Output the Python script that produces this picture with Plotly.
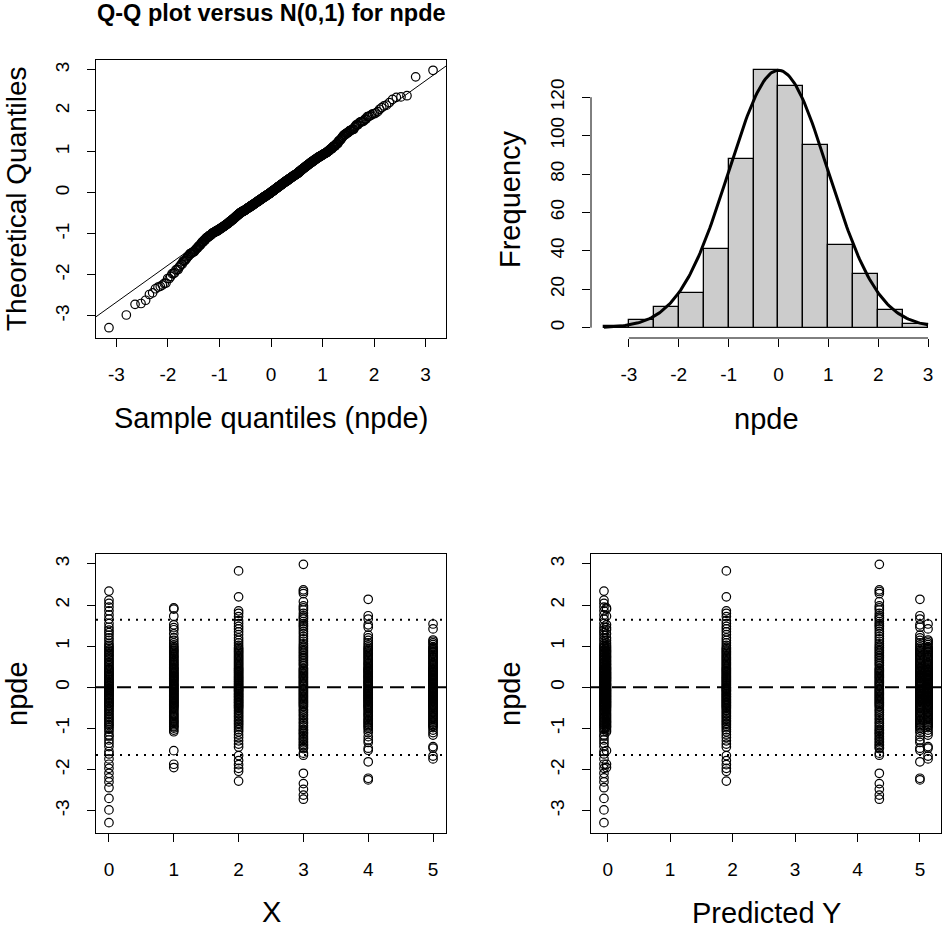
import statistics
import numpy as np
import plotly.graph_objects as go

# npde values per dose level X
npde_x0 = [-3.29, -2.98, -2.70, -2.44, -2.30, -2.20, -2.09, -1.97, -1.87, -1.74, -1.62, -1.56,
           -1.44, -1.36, -1.28, -1.20, -1.16, -1.08, -1.02,
           -0.97, -0.93, -0.90, -0.86, -0.82, -0.78, -0.75, -0.71, -0.67, -0.63, -0.59, -0.55, -0.52,
           -0.48, -0.45, -0.43, -0.40, -0.37, -0.35, -0.32, -0.29, -0.27, -0.24, -0.21, -0.19, -0.16,
           -0.14, -0.11, -0.09, -0.07, -0.05, -0.03, -0.01,
           0.02, 0.04, 0.07, 0.10, 0.12, 0.15, 0.18, 0.20, 0.23, 0.26, 0.29, 0.31, 0.34, 0.37, 0.40,
           0.43, 0.45, 0.48,
           0.52, 0.55, 0.59, 0.62, 0.66, 0.69, 0.73, 0.77, 0.80, 0.84, 0.88, 0.91, 0.95, 0.98,
           1.02, 1.07, 1.14, 1.20, 1.27, 1.33, 1.39, 1.46, 1.55, 1.66, 1.76, 1.86, 1.95, 2.04, 2.12, 2.34]
npde_x1 = [-1.95, -1.87, -1.54, -1.08, -1.04,
           -0.99, -0.96, -0.94, -0.91, -0.88, -0.85, -0.83, -0.80, -0.77, -0.74, -0.71, -0.68, -0.65,
           -0.62, -0.58, -0.55, -0.52,
           -0.49, -0.47, -0.45, -0.43, -0.41, -0.39, -0.37, -0.35, -0.33, -0.31, -0.29, -0.27, -0.25,
           -0.23, -0.21, -0.19, -0.17, -0.15, -0.13, -0.11, -0.09, -0.07, -0.05, -0.03, -0.01,
           0.01, 0.03, 0.05, 0.07, 0.09, 0.11, 0.14, 0.16, 0.18, 0.20, 0.22, 0.24, 0.26, 0.28, 0.30,
           0.32, 0.34, 0.36, 0.38, 0.41, 0.43, 0.45, 0.47, 0.49,
           0.52, 0.55, 0.57, 0.60, 0.63, 0.65, 0.68, 0.71, 0.74, 0.76, 0.79, 0.82, 0.85, 0.88, 0.90,
           0.93, 0.96, 0.99,
           1.03, 1.08, 1.14, 1.20, 1.30, 1.40, 1.45, 1.52, 1.73, 1.90, 1.93]
npde_x2 = [-2.28, -2.04, -1.97, -1.88, -1.78, -1.66, -1.45, -1.38, -1.30, -1.22, -1.15, -1.08, -1.03,
           -0.98, -0.94, -0.90, -0.87, -0.83, -0.80, -0.76, -0.72, -0.69, -0.65, -0.62, -0.58, -0.55, -0.51,
           -0.49, -0.46, -0.44, -0.42, -0.39, -0.37, -0.35, -0.32, -0.30, -0.28, -0.25, -0.23, -0.21,
           -0.18, -0.16, -0.14, -0.11, -0.09, -0.07, -0.05, -0.03, -0.01,
           0.01, 0.04, 0.06, 0.09, 0.11, 0.14, 0.16, 0.19, 0.21, 0.24, 0.26, 0.29, 0.31, 0.34, 0.36,
           0.39, 0.41, 0.44, 0.46, 0.49,
           0.52, 0.55, 0.58, 0.61, 0.64, 0.67, 0.70, 0.73, 0.76, 0.79, 0.82, 0.85, 0.88, 0.91, 0.94, 0.97,
           1.02, 1.08, 1.14, 1.20, 1.28, 1.35, 1.42, 1.48, 1.55, 1.62, 1.72, 1.80, 1.86, 2.20, 2.83]
npde_x3 = [-2.72, -2.62, -2.48, -2.34, -2.09, -1.65, -1.60,
           -1.49, -1.46, -1.42, -1.39, -1.35, -1.31, -1.27, -1.24, -1.20, -1.16, -1.12, -1.09, -1.05, -1.02,
           -0.97, -0.93, -0.88, -0.84, -0.79, -0.75, -0.70, -0.66, -0.61, -0.57, -0.53,
           -0.48, -0.45, -0.42, -0.39, -0.36, -0.33, -0.30, -0.27, -0.24, -0.21, -0.18, -0.15, -0.12,
           -0.09, -0.06, -0.03,
           0.02, 0.05, 0.08, 0.11, 0.14, 0.17, 0.20, 0.23, 0.26, 0.29, 0.32, 0.35, 0.38, 0.41, 0.44, 0.47,
           0.53, 0.57, 0.61, 0.65, 0.69, 0.73, 0.77, 0.81, 0.85, 0.89, 0.93, 0.97,
           1.01, 1.06, 1.12, 1.18, 1.24, 1.30, 1.36, 1.42, 1.47,
           1.51, 1.55, 1.60, 1.66, 1.70, 1.74, 1.80, 1.88, 1.93, 1.98,
           2.08, 2.28, 2.33, 2.37, 2.99]
npde_x4 = [-2.25, -2.21, -1.81, -1.53, -1.48, -1.34, -1.28, -1.20, -1.10, -1.04,
           -0.99, -0.96, -0.93, -0.90, -0.87, -0.84, -0.81, -0.78, -0.75, -0.71, -0.68, -0.65, -0.62,
           -0.58, -0.55, -0.52,
           -0.49, -0.47, -0.45, -0.43, -0.41, -0.38, -0.36, -0.34, -0.32, -0.30, -0.28, -0.26, -0.24,
           -0.22, -0.20, -0.18, -0.16, -0.14, -0.12, -0.10, -0.08, -0.06, -0.04, -0.02,
           0.01, 0.03, 0.05, 0.08, 0.10, 0.12, 0.14, 0.16, 0.18, 0.21, 0.23, 0.25, 0.27, 0.29, 0.31,
           0.34, 0.36, 0.38, 0.40, 0.42, 0.44, 0.46, 0.48,
           0.51, 0.54, 0.57, 0.59, 0.62, 0.65, 0.68, 0.71, 0.74, 0.77, 0.80, 0.83, 0.86, 0.89, 0.92,
           0.95, 0.98,
           1.03, 1.08, 1.14, 1.20, 1.27, 1.46, 1.52, 1.66, 1.74, 2.14]
npde_x5 = [-1.74, -1.67, -1.48, -1.44, -1.16, -1.10, -1.04,
           -0.98, -0.95, -0.93, -0.90, -0.87, -0.84, -0.81, -0.78, -0.75, -0.72, -0.69, -0.66, -0.63,
           -0.60, -0.57, -0.54, -0.51,
           -0.49, -0.47, -0.45, -0.44, -0.42, -0.40, -0.38, -0.36, -0.34, -0.32, -0.30, -0.28, -0.26,
           -0.24, -0.22, -0.20, -0.18, -0.16, -0.14, -0.12, -0.11, -0.09, -0.07, -0.05, -0.04, -0.02, -0.01,
           0.01, 0.03, 0.05, 0.07, 0.09, 0.11, 0.13, 0.15, 0.17, 0.19, 0.21, 0.23, 0.25, 0.27, 0.29,
           0.31, 0.33, 0.35, 0.37, 0.39, 0.41, 0.43, 0.45, 0.47, 0.49,
           0.52, 0.55, 0.58, 0.60, 0.63, 0.66, 0.69, 0.72, 0.74, 0.77, 0.80, 0.83, 0.86, 0.88, 0.91,
           0.94, 0.96, 0.99,
           1.04, 1.08, 1.12, 1.15, 1.42, 1.54]

npde_groups = [npde_x0, npde_x1, npde_x2, npde_x3, npde_x4, npde_x5]
x_levels = [0, 1, 2, 3, 4, 5]
pred_levels = [-0.06, -0.02, 1.90, 4.35, 5.00, 5.13]   # predicted Y for each X

# histogram (counts)
hist_breaks = [-3.5, -3.0, -2.5, -2.0, -1.5, -1.0, -0.5, 0.0, 0.5, 1.0, 1.5, 2.0, 2.5, 3.0]
hist_counts = [1, 4, 11, 18, 41, 88, 134, 126, 95, 43, 28, 9, 2]

qq_ticks = [-3, -2, -1, 0, 1, 2, 3]
freq_ticks = [0, 20, 40, 60, 80, 100, 120]
x_ticks = [0, 1, 2, 3, 4, 5]

W, H = 945, 931
FONT = "Liberation Sans, Arial, Helvetica, sans-serif"


def r_range(lo, hi):
    # R style axis range (4% padding each side)
    pad = (hi - lo) * 0.04
    return [lo - pad, hi + pad]


def dom_x(a, b):
    return [a / W, b / W]


def dom_y(top, bottom):
    return [1 - bottom / H, 1 - top / H]


def tick(vals):
    # plain hyphen minus like R
    return dict(tickvals=vals, ticktext=[str(v) for v in vals])


# qq data
npde_all = np.sort(np.concatenate([np.array(g) for g in npde_groups]))
n = len(npde_all)
nd = statistics.NormalDist()
theo = np.array([nd.inv_cdf((i - 0.5) / n) for i in range(1, n + 1)])

q25, q75 = np.quantile(npde_all, [0.25, 0.75])
slope = (q75 - q25) / (nd.inv_cdf(0.75) - nd.inv_cdf(0.25))
intercept = q25 - slope * nd.inv_cdf(0.25)

qq_xr = r_range(theo.min(), theo.max())
npde_yr = r_range(npde_all.min(), npde_all.max())

# histogram + normal curve scaled to highest bar
bin_mid = [(hist_breaks[i] + hist_breaks[i + 1]) / 2 for i in range(len(hist_counts))]
curve_x = np.linspace(hist_breaks[0], hist_breaks[-1], 200)
curve_y = np.exp(-curve_x ** 2 / 2) * max(hist_counts)

x_all, pred_all, npde_flat = [], [], []
for lev, pr, g in zip(x_levels, pred_levels, npde_groups):
    x_all += [lev] * len(g)
    pred_all += [pr] * len(g)
    npde_flat += g

pi_lo, pi_hi = nd.inv_cdf(0.05), nd.inv_cdf(0.95)

circ = dict(symbol="circle-open", size=8.5, color="black", line=dict(width=1.2, color="black"))

fig = go.Figure()
fig.add_trace(go.Scatter(x=theo, y=npde_all, mode="markers", marker=circ, xaxis="x", yaxis="y"))
fig.add_trace(go.Scatter(x=qq_xr, y=[intercept + slope * v for v in qq_xr], mode="lines",
                         line=dict(color="black", width=1), xaxis="x", yaxis="y"))

fig.add_trace(go.Bar(x=bin_mid, y=hist_counts, width=0.5, marker=dict(color="#CCCCCC", line=dict(color="black", width=1.3)),
                     xaxis="x2", yaxis="y2"))
fig.add_trace(go.Scatter(x=curve_x, y=curve_y, mode="lines", line=dict(color="black", width=3),
                         xaxis="x2", yaxis="y2"))

fig.add_trace(go.Scatter(x=x_all, y=npde_flat, mode="markers", marker=circ, xaxis="x3", yaxis="y3"))
fig.add_trace(go.Scatter(x=pred_all, y=npde_flat, mode="markers", marker=circ, xaxis="x4", yaxis="y4"))

ax = dict(showgrid=False, zeroline=False, ticks="outside", ticklen=8, tickwidth=1, tickcolor="black",
          tickfont=dict(size=19, color="black", family=FONT), showline=True, mirror=True,
          linecolor="black", linewidth=1)
axx = dict(ax, ticklabelstandoff=11)
axy = dict(ax, tickangle=-90, ticklabelstandoff=10)

fig.update_layout(
    width=W, height=H, margin=dict(l=0, r=0, t=0, b=0),
    paper_bgcolor="white", plot_bgcolor="white", showlegend=False,
    font=dict(family=FONT, color="black"),
    xaxis=dict(axx, domain=dom_x(96, 446), anchor="y", range=qq_xr, **tick(qq_ticks)),
    yaxis=dict(axy, domain=dom_y(60, 338), anchor="x", range=npde_yr, **tick(qq_ticks)),
    xaxis2=dict(axx, domain=dom_x(591, 941), anchor="y2", range=r_range(hist_breaks[0], hist_breaks[-1]),
                showline=False, **tick(qq_ticks)),
    yaxis2=dict(axy, domain=dom_y(60, 338), anchor="x2", range=r_range(0, max(hist_counts)),
                showline=False, **tick(freq_ticks)),
    xaxis3=dict(axx, domain=dom_x(96, 446), anchor="y3", range=r_range(min(x_levels), max(x_levels)),
                **tick(x_ticks)),
    yaxis3=dict(axy, domain=dom_y(554, 833), anchor="x3", range=npde_yr, **tick(qq_ticks)),
    xaxis4=dict(axx, domain=dom_x(591, 941), anchor="y4", range=r_range(min(pred_all), max(pred_all)),
                **tick(x_ticks)),
    yaxis4=dict(axy, domain=dom_y(554, 833), anchor="x4", range=npde_yr, **tick(qq_ticks)),
    bargap=0,
)

# hist axis lines only span first..last tick (R style)
fig.add_shape(type="line", xref="x2", yref="y2 domain", x0=qq_ticks[0], x1=qq_ticks[-1], y0=0, y1=0,
              line=dict(color="black", width=1))
fig.add_shape(type="line", xref="x2 domain", yref="y2", x0=0, x1=0, y0=freq_ticks[0], y1=freq_ticks[-1],
              line=dict(color="black", width=1))

# reference lines on the npde scatter panels
for xr, yr in [("x3 domain", "y3"), ("x4 domain", "y4")]:
    fig.add_shape(type="line", xref=xr, yref=yr, x0=0, x1=1, y0=0, y1=0,
                  line=dict(color="black", width=2, dash="14px,7px"))
    for v in [pi_lo, pi_hi]:
        fig.add_shape(type="line", xref=xr, yref=yr, x0=0, x1=1, y0=v, y1=v,
                      line=dict(color="black", width=2, dash="2px,6px"))


# titles
def label(text, x, y, size=29, angle=0, bold=False):
    if bold:
        text = "<b>" + text + "</b>"
    fig.add_annotation(text=text, x=x / W, y=1 - y / H, xref="paper", yref="paper", showarrow=False,
                       xanchor="center", yanchor="middle", textangle=angle,
                       font=dict(size=size, family=FONT, color="black"))


label("Q-Q plot versus N(0,1) for npde", 271, 13, size=23.5, bold=True)
label("Sample quantiles (npde)", 271, 418)
label("Theoretical Quantiles", 17, 199, size=28, angle=-90)
label("npde", 766, 419)
label("Frequency", 510, 199, angle=-90)
label("X", 271, 912)
label("npde", 17, 694, angle=-90)
label("Predicted Y", 766, 913)
label("npde", 510, 694, angle=-90)

# drop the default page margin so the figure sits at the window corner
fig.write_html("out.html", config={"displayModeBar": False},
               post_script="document.body.style.margin='0';document.body.style.overflow='hidden';")
